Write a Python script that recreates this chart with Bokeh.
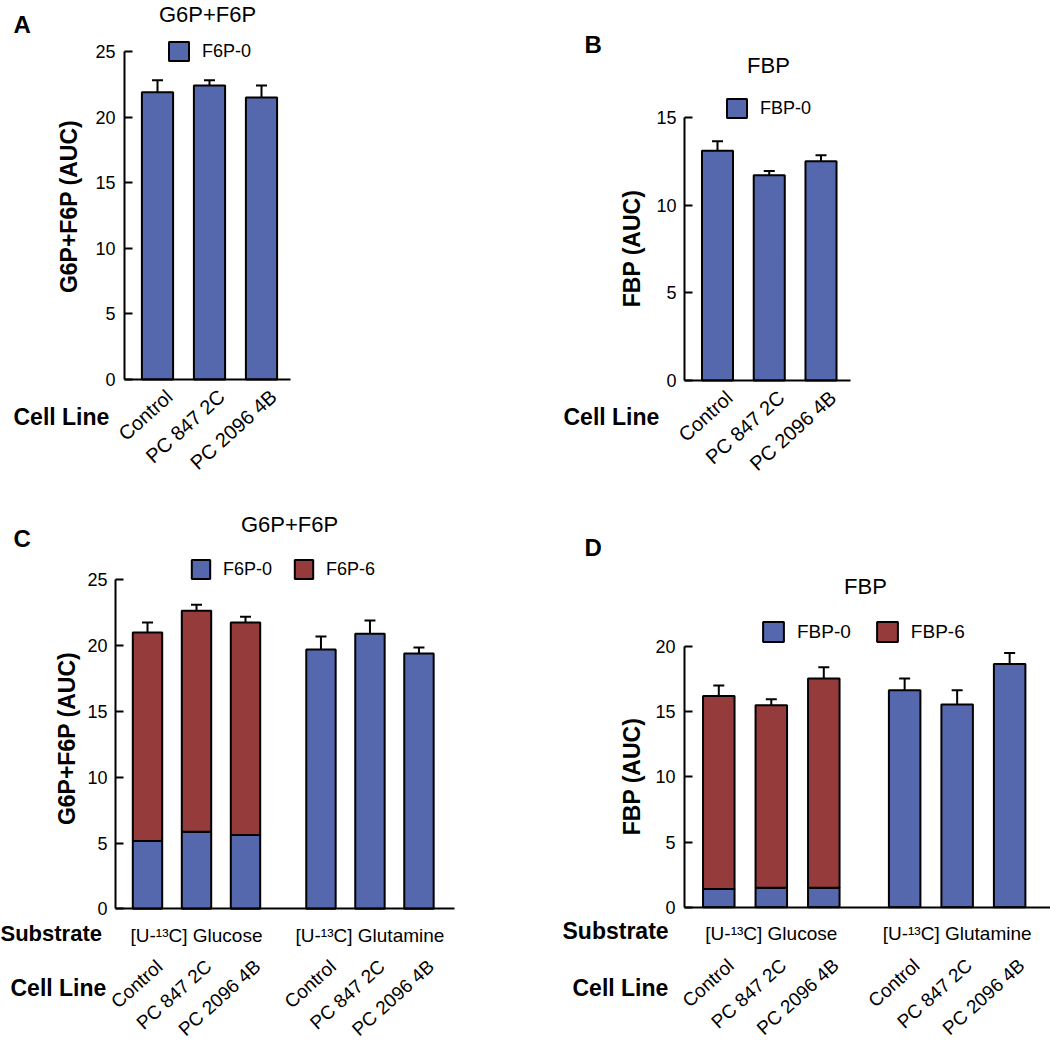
from bokeh.plotting import figure
from bokeh.models import (ColumnDataSource, Range1d, FixedTicker, Whisker, TeeHead, Label,
                          LabelSet, Legend, LegendItem, LinearAxis)
from bokeh.layouts import row, column
from bokeh.core.properties import value
from bokeh.embed import file_html
from bokeh.resources import INLINE

FONT = "Liberation Sans"
BLUE = "#5567ad"
RED = "#963b3c"

# ---------------- data ----------------
cell_lines = ["Control", "PC 847 2C", "PC 2096 4B"]
substrates = ["[U-\u00b9\u00b3C] Glucose", "[U-\u00b9\u00b3C] Glutamine"]

# Panel A : G6P+F6P (AUC), F6P-0
a_f6p0 = [21.9, 22.4, 21.5]
a_f6p0_err = [0.9, 0.4, 0.9]
a_ticks = [0, 5, 10, 15, 20, 25]

# Panel B : FBP (AUC), FBP-0
b_fbp0 = [13.1, 11.7, 12.5]
b_fbp0_err = [0.55, 0.25, 0.35]
b_ticks = [0, 5, 10, 15]

# Panel C : G6P+F6P (AUC), stacked F6P-0 / F6P-6
c_glc_f6p0 = [5.15, 5.85, 5.6]
c_glc_f6p0_err = [0.6, 0.4, 0.15]
c_glc_f6p6 = [15.85, 16.8, 16.15]
c_glc_total_err = [0.75, 0.45, 0.45]
c_gln_f6p0 = [19.7, 20.9, 19.4]
c_gln_f6p0_err = [1.0, 1.0, 0.45]
c_ticks = [0, 5, 10, 15, 20, 25]

# Panel D : FBP (AUC), stacked FBP-0 / FBP-6
d_glc_fbp0 = [1.4, 1.5, 1.5]
d_glc_fbp0_err = [0.2, 0.25, 0.2]
d_glc_fbp6 = [14.8, 14.0, 16.05]
d_glc_total_err = [0.8, 0.45, 0.85]
d_gln_fbp0 = [16.65, 15.55, 18.65]
d_gln_fbp0_err = [0.9, 1.1, 0.85]
d_ticks = [0, 5, 10, 15, 20]

# category positions (index based), second substrate group shifted by a gap
GROUP_GAP = 0.54
n_cl = len(cell_lines)
x_single = list(range(n_cl))
x_groups = [g * (n_cl + GROUP_GAP) + i for g in range(len(substrates)) for i in range(n_cl)]
x_group_centers = [g * (n_cl + GROUP_GAP) + (n_cl - 1) / 2 for g in range(len(substrates))]
BAR_W = 0.6
LABEL_ANGLE = 42


class Panel:
    """Figure whose frame covers the whole canvas; axes drawn at fixed data locations."""

    def __init__(self, W, H, x0_px, ppu_x, y0_px, ppu_y, axis_px, axis_right_px, y_top,
                 ticks, tick_standoff):
        self.W, self.H = W, H
        xr = Range1d(-x0_px / ppu_x, (W - x0_px) / ppu_x)
        yr = Range1d(-(H - y0_px) / ppu_y, y0_px / ppu_y)
        p = figure(width=W, height=H, x_range=xr, y_range=yr, output_backend="svg",
                   toolbar_location=None, x_axis_location=None, y_axis_location=None,
                   min_border_left=0, min_border_right=0, min_border_top=0,
                   min_border_bottom=0)
        p.outline_line_color = None
        p.xgrid.visible = False
        p.ygrid.visible = False
        p.background_fill_color = "white"
        p.border_fill_color = "white"
        ax_x = (axis_px - x0_px) / ppu_x
        right_x = (axis_right_px - x0_px) / ppu_x

        yax = LinearAxis(fixed_location=ax_x, bounds=(0, y_top), ticker=FixedTicker(ticks=ticks))
        yax.axis_line_width = 2
        yax.axis_line_color = "black"
        yax.major_tick_in = 8
        yax.major_tick_out = 0
        yax.minor_tick_in = 0
        yax.minor_tick_out = 0
        yax.major_tick_line_width = 2
        yax.major_tick_line_color = "black"
        yax.major_label_text_font = FONT
        yax.major_label_text_font_size = "18px"
        yax.major_label_text_color = "black"
        yax.major_label_standoff = tick_standoff
        p.add_layout(yax, "left")

        xax = LinearAxis(fixed_location=0, bounds=(ax_x, right_x), ticker=FixedTicker(ticks=[]))
        xax.axis_line_width = 2
        xax.axis_line_color = "black"
        xax.major_tick_in = 0
        xax.major_tick_out = 0
        xax.major_label_text_color = None
        p.add_layout(xax, "below")
        self.p = p

    def text(self, text, x, y, size, bold=False, align="left", angle=0):
        # x, y: pixel position of the text baseline (left/top origin inside the panel)
        shift = 0.36 * size
        if angle == 0:
            y = y - shift
        else:
            x = x - shift
        self.p.add_layout(Label(x=x, y=self.H - y, x_units="screen", y_units="screen",
                                text=text, text_font=FONT, text_font_size=f"{size}px",
                                text_font_style="bold" if bold else "normal",
                                text_align=align, text_baseline="alphabetic",
                                angle=angle, angle_units="deg", text_color="black"))

    def bars(self, xs, top, color, bottom=None):
        data = dict(x=xs, top=top, bottom=bottom if bottom is not None else [0] * len(xs))
        return self.p.vbar(x="x", top="top", bottom="bottom", width=BAR_W,
                           source=ColumnDataSource(data), fill_color=color,
                           line_color="black", line_width=2)

    def errors(self, xs, lo, err):
        src = ColumnDataSource(dict(x=xs, lo=lo, hi=[a + b for a, b in zip(lo, err)]))
        self.p.add_layout(Whisker(source=src, base="x", lower="lo", upper="hi",
                                  dimension="height", line_width=2, line_color="black",
                                  lower_head=None,
                                  upper_head=TeeHead(size=11, line_width=2, line_color="black")))

    def cell_labels(self, xs, names, y_px, x_off, size):
        src = ColumnDataSource(dict(x=xs, t=names))
        self.p.add_layout(LabelSet(source=src, x="x", y=self.H - y_px, y_units="screen",
                                   text="t", angle=LABEL_ANGLE, angle_units="deg",
                                   x_offset=x_off, text_align="right", text_baseline="middle",
                                   text_font=value(FONT), text_font_size=value(f"{size}px"),
                                   text_color="black"))

    def group_labels(self, xs, names, y_px):
        src = ColumnDataSource(dict(x=xs, t=names))
        self.p.add_layout(LabelSet(source=src, x="x", y=self.H - y_px, y_units="screen",
                                   text="t", text_align="center", text_baseline="alphabetic",
                                   text_font=value(FONT), text_font_size=value("19px"),
                                   text_color="black"))

    def legend(self, items, left_px, bottom_px, gw, gh, spacing, size="18px"):
        leg = Legend(items=[LegendItem(label=l, renderers=[r]) for l, r in items],
                     location=(left_px, self.H - bottom_px), orientation="horizontal",
                     padding=0, margin=0, spacing=spacing, glyph_width=gw, glyph_height=gh,
                     label_height=gh, label_standoff=11, label_text_font=FONT,
                     label_text_font_size=size, label_text_color="black",
                     border_line_color=None, background_fill_alpha=0)
        self.p.add_layout(leg)


# ---------------- Panel A ----------------
A = Panel(560, 508, 157, 52.0, 379, 328 / 25, 124, 290, 25, a_ticks, 9)
rA = A.bars(x_single, a_f6p0, BLUE)
A.errors(x_single, a_f6p0, a_f6p0_err)
A.cell_labels(x_single, cell_lines, 393, 12, 20)
A.legend([("F6P-0", rA)], 166, 63, 25, 24, 20)
A.text("A", 13, 33, 24, bold=True)
A.text("G6P+F6P", 207, 22, 22, align="center")
A.text("G6P+F6P (AUC)", 77, 206, 23, bold=True, align="center", angle=90)
A.text("Cell Line", 13, 425, 23, bold=True)

# ---------------- Panel B ----------------
B = Panel(490, 508, 157, 51.75, 380, 263 / 15, 124, 290, 15, b_ticks, 8)
rB = B.bars(x_single, b_fbp0, BLUE)
B.errors(x_single, b_fbp0, b_fbp0_err)
B.cell_labels(x_single, cell_lines, 394, 12, 20)
B.legend([("FBP-0", rB)], 164, 120, 25, 24, 20)
B.text("B", 24, 53, 24, bold=True)
B.text("FBP", 208, 73, 22, align="center")
B.text("FBP (AUC)", 80, 248, 23, bold=True, align="center", angle=90)
B.text("Cell Line", 3, 425, 23, bold=True)

# ---------------- Panel C ----------------
C = Panel(560, 535, 147, 49.0, 400.3, 329 / 25, 115, 454, 25, c_ticks, 8)
c_glc_total = [a + b for a, b in zip(c_glc_f6p0, c_glc_f6p6)]
rC0 = C.bars(x_groups, c_glc_f6p0 + c_gln_f6p0, BLUE)
rC6 = C.bars(x_groups[:n_cl], c_glc_total, RED, bottom=c_glc_f6p0)
C.errors(x_groups[:n_cl], c_glc_total, c_glc_total_err)
C.errors(x_groups[:n_cl], c_glc_f6p0, c_glc_f6p0_err)
C.errors(x_groups[n_cl:], c_gln_f6p0, c_gln_f6p0_err)
C.cell_labels(x_groups, cell_lines * len(substrates), 455, 12, 19)
C.group_labels(x_group_centers, substrates, 433)
C.legend([("F6P-0", rC0), ("F6P-6", rC6)], 189, 73, 23, 24, 20)
C.text("C", 13, 39, 24, bold=True)
C.text("G6P+F6P", 289, 24, 22, align="center")
C.text("G6P+F6P (AUC)", 75, 230, 23, bold=True, align="center", angle=90)
C.text("Substrate", 0, 433, 22, bold=True)
C.text("Cell Line", 10, 488, 23, bold=True)

# ---------------- Panel D ----------------
D = Panel(490, 535, 158.3, 52.5, 398.7, 260.7 / 20, 124, 490, 20, d_ticks, 9)
d_glc_total = [a + b for a, b in zip(d_glc_fbp0, d_glc_fbp6)]
rD0 = D.bars(x_groups, d_glc_fbp0 + d_gln_fbp0, BLUE)
rD6 = D.bars(x_groups[:n_cl], d_glc_total, RED, bottom=d_glc_fbp0)
D.errors(x_groups[:n_cl], d_glc_total, d_glc_total_err)
D.errors(x_groups[:n_cl], d_glc_fbp0, d_glc_fbp0_err)
D.errors(x_groups[n_cl:], d_gln_fbp0, d_gln_fbp0_err)
D.cell_labels(x_groups, cell_lines * len(substrates), 454, 12, 19)
D.group_labels(x_group_centers, substrates, 431)
D.legend([("FBP-0", rD0), ("FBP-6", rD6)], 200, 136, 26, 25, 23, size="19px")
D.text("D", 24, 48, 24, bold=True)
D.text("FBP", 305, 86, 22, align="center")
D.text("FBP (AUC)", 80, 268, 23, bold=True, align="center", angle=90)
D.text("Substrate", 2, 431, 23, bold=True)
D.text("Cell Line", 12, 488, 23, bold=True)

layout = column(row(A.p, B.p), row(C.p, D.p))
open("out.html", "w").write(file_html(layout, INLINE))
